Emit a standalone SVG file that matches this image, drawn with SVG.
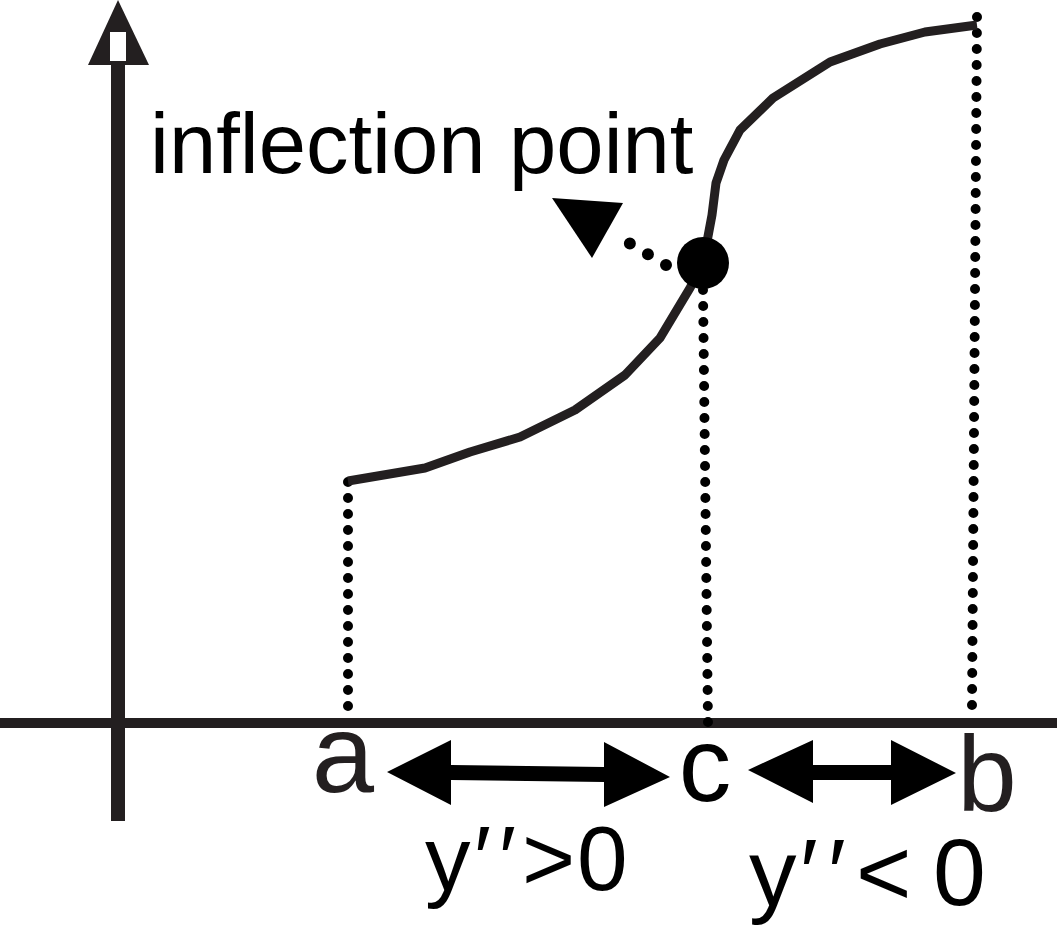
<svg xmlns="http://www.w3.org/2000/svg" width="1057" height="946" viewBox="0 0 1057 946">
<style>
.ax{fill:#231f20}
.dot{fill:none;stroke:#000;stroke-width:10;stroke-dasharray:0 16;stroke-linecap:round}
.curve{fill:none;stroke:#231f20;stroke-width:9;stroke-linejoin:round;stroke-linecap:butt}
.t{font-family:"Liberation Sans",Arial,sans-serif;fill:#000}
.lbl{font-family:"Liberation Sans",Arial,sans-serif;fill:#231f20;text-anchor:middle}
</style>
<rect width="1057" height="946" fill="#fff"/>
<g id="axes">
  <rect class="ax" x="111" y="60" width="14" height="761"/>
  <polygon class="ax" points="118,0 149,65 88,65"/>
  <rect x="110" y="32" width="16" height="29" fill="#fff"/>
  <rect class="ax" x="0" y="718" width="1057" height="10"/>
</g>
<g id="connectors">
  <line class="dot" x1="348" y1="482" x2="348" y2="712"/>
  <line class="dot" x1="703" y1="290" x2="708" y2="723"/>
  <line class="dot" x1="977" y1="17" x2="972" y2="705"/>
  <line class="dot" x1="666" y1="265" x2="612" y2="233" style="stroke-dasharray:0 21;stroke-width:12"/>
  <polygon points="552,198 623,203 592,258" fill="#000"/>
  <polygon points="387,772 451,740 451,765 604,767 604,742 670,777 604,807 604,782 451,780 451,805" fill="#000"/>
  <polygon points="748,770 813,740 813,765 891,765 891,740 956,773 891,805 891,780 813,780 813,803" fill="#000"/>
</g>
<g id="curve">
  <path class="curve" d="M348,481 L425,468 L470,452 L520,437 L575,410 L625,375 L660,338 L690,288 L703,263 L712,215 L716,183 L724,160 L740,130 L773,98 L830,62 L880,44 L925,32 L977,25"/>
</g>
<g id="inflection-point">
  <circle cx="703" cy="263" r="26" fill="#000"/>
  <text class="t" x="150" y="173" font-size="85">inflection point</text>
</g>
<g id="label-a"><text class="lbl" x="343" y="792" font-size="112">a</text></g>
<g id="label-c"><text class="lbl" x="705" y="801" font-size="105" style="fill:#000">c</text></g>
<g id="label-b"><text class="lbl" x="987" y="811" font-size="107">b</text></g>
<g id="label-pos"><text class="t" x="425 474 499 522 577" y="890" font-size="91">y′′&gt;0</text></g>
<g id="label-neg"><text class="t" x="749 800 828 856 905 933" y="905" font-size="95">y′′&lt; 0</text></g>
</svg>
